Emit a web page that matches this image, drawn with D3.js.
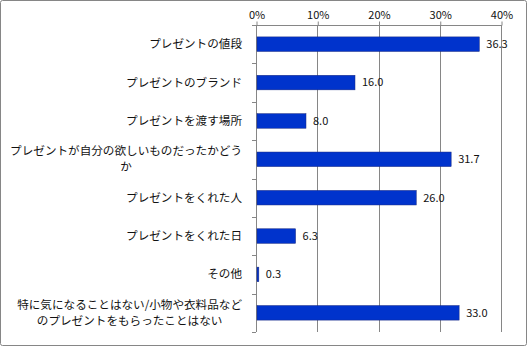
<!DOCTYPE html>
<html><head><meta charset="utf-8">
<script src="https://cdn.jsdelivr.net/npm/d3@7"></script>
<style>body{margin:0;background:#fff}svg{display:block}</style>
</head><body>
<script>
const categories = [
  ["プレゼントの値段"],
  ["プレゼントのブランド"],
  ["プレゼントを渡す場所"],
  ["プレゼントが自分の欲しいものだったかどう","か"],
  ["プレゼントをくれた人"],
  ["プレゼントをくれた日"],
  ["その他"],
  ["特に気になることはない/小物や衣料品など","のプレゼントをもらったことはない"]
];
const values = [36.3, 16.0, 8.0, 31.7, 26.0, 6.3, 0.3, 33.0];
const tickValues = [0, 10, 20, 30, 40];

(function () {
const W = 527, H = 346;
const svg = d3.select("body").append("svg").attr("width", W).attr("height", H);
svg.append("rect").attr("x", 0.5).attr("y", 0.5).attr("width", W - 1).attr("height", H - 1)
  .attr("rx", 2).attr("fill", "#fff").attr("stroke", "#868686");

const pLeft = 256, pRight = 501, pTop = 25, pBottom = 332;
const x = d3.scaleLinear().domain([0, 40]).range([pLeft, pRight]);
const y = d3.scaleBand().domain(d3.range(categories.length)).range([pTop, pBottom]).paddingInner(0.62).paddingOuter(0.31);
const font = "'Noto Sans CJK JP', sans-serif";
const txt = "#111";

// gridlines
svg.append("g").selectAll("line").data(tickValues.slice(1)).join("line")
  .attr("x1", d => Math.round(x(d)) + 0.5).attr("x2", d => Math.round(x(d)) + 0.5)
  .attr("y1", pTop).attr("y2", pBottom).attr("stroke", "#868686");

// top axis
const xAxis = d3.axisTop(x).tickValues(tickValues).tickFormat(d => d + "%").tickSize(4).tickPadding(3);
const gx = svg.append("g").attr("transform", `translate(0.5,${pTop + 0.5})`).call(xAxis);
gx.select(".domain").attr("stroke", "#868686").attr("d", `M${pLeft},0H${pRight}`);
gx.selectAll(".tick line").attr("stroke", "#868686");
gx.selectAll(".tick text").attr("font-family", font).attr("font-size", 11).attr("fill", txt);

// left axis with ticks at band boundaries
svg.append("line").attr("x1", pLeft + 0.5).attr("x2", pLeft + 0.5).attr("y1", pTop).attr("y2", pBottom).attr("stroke", "#868686");
const step = y.step();
svg.append("g").selectAll("line").data(d3.range(categories.length + 1)).join("line")
  .attr("x1", pLeft - 4).attr("x2", pLeft)
  .attr("y1", i => Math.round(pTop + i * step) + 0.5).attr("y2", i => Math.round(pTop + i * step) + 0.5)
  .attr("stroke", "#868686");

// bars
svg.append("g").selectAll("rect").data(values).join("rect")
  .attr("x", x(0) + 1).attr("y", (d, i) => y(i))
  .attr("width", d => x(d) - x(0)).attr("height", y.bandwidth())
  .attr("fill", "#0033cc").attr("stroke", "#1a2a80").attr("stroke-width", 0.5);

// value labels
svg.append("g").selectAll("text").data(values).join("text")
  .attr("x", d => x(d) + 8).attr("y", (d, i) => y(i) + y.bandwidth() / 2)
  .attr("dy", "0.35em").attr("font-family", font).attr("font-size", 11).attr("fill", txt)
  .text(d => d.toFixed(1));

// category labels
const lg = svg.append("g");
categories.forEach((lines, i) => {
  const cy = y(i) + y.bandwidth() / 2;
  const lh = 16;
  const t = lg.append("text").attr("font-family", font).attr("font-size", 11.6).attr("fill", txt);
  if (lines.length === 1) {
    t.attr("x", 242).attr("y", cy).attr("dy", "0.35em").attr("text-anchor", "end").text(lines[0]);
  } else {
    t.append("tspan").attr("x", 0).text(lines[0]);
    const w = t.node().getComputedTextLength();
    t.text(null);
    const cx = 242 - w / 2;
    lines.forEach((ln, k) => {
      t.append("tspan").attr("x", cx).attr("text-anchor", "middle")
        .attr("y", cy + (k - (lines.length - 1) / 2) * lh).attr("dy", "0.35em").text(ln);
    });
  }
});
})();
</script>
</body></html>
